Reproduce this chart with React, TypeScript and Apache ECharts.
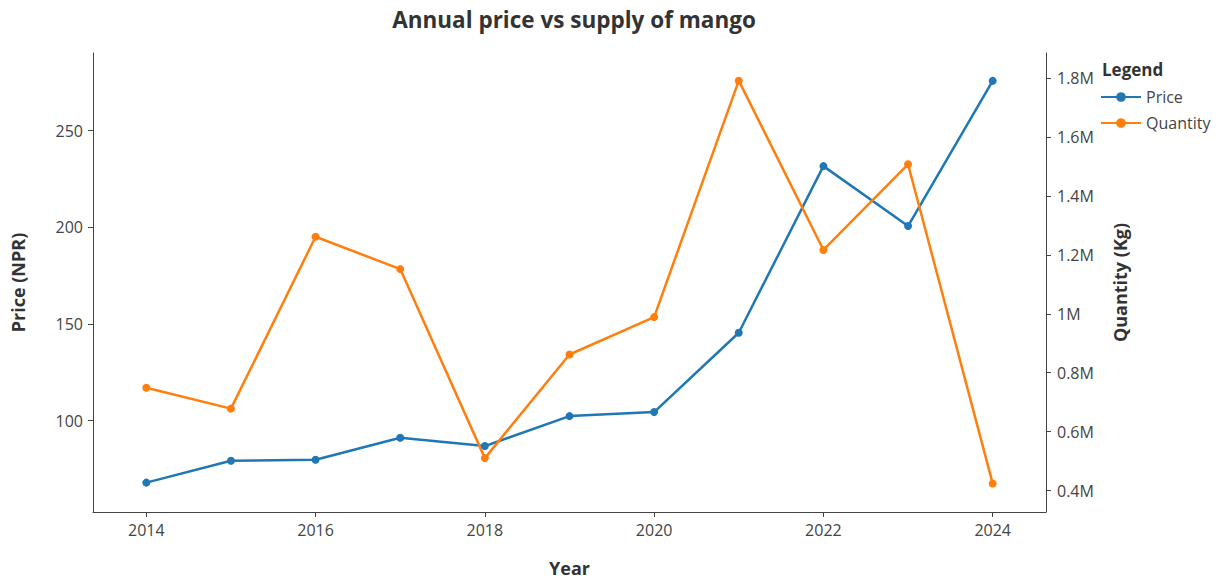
import React, { useEffect, useRef } from "react";
import * as echarts from "echarts";

const years = [2014, 2015, 2016, 2017, 2018, 2019, 2020, 2021, 2022, 2023, 2024];
const price = [68.0, 79.3, 79.8, 91.2, 86.9, 102.4, 104.5, 145.5, 231.7, 200.7, 275.8];
const quantity = [749000, 678000, 1262000, 1152000, 510000, 862000, 989000, 1792000, 1217000, 1508000, 424000];
const xTicks = [2014, 2016, 2018, 2020, 2022, 2024];
const priceTicks = [100, 150, 200, 250];
const quantityTicks = [400000, 600000, 800000, 1000000, 1200000, 1400000, 1600000, 1800000];

const FONT = "'Open Sans', 'Noto Sans', sans-serif";
const BLUE = "#1f77b4";
const ORANGE = "#ff7f0e";

export default function App() {
  const ref = useRef<HTMLDivElement>(null);
  useEffect(() => {
    document.body.style.margin = "0";
    if (!ref.current) return;
    const chart = echarts.init(ref.current, undefined, { renderer: "svg" });
    const axisLine = { show: true, lineStyle: { color: "#444", width: 1 } };
    const axisTick = { show: true, length: 5, lineStyle: { color: "#444" } };
    const labelStyle = { color: "#444", fontSize: 16, fontFamily: FONT };
    const nameStyle = { color: "#333", fontSize: 18, fontWeight: "bold" as const, fontFamily: FONT };
    chart.setOption({
      animation: false,
      textStyle: { fontFamily: FONT },
      title: [
        {
          text: "Annual price vs supply of mango",
          left: 569,
          top: 3,
          textAlign: "center",
          textStyle: { color: "#333", fontSize: 22.5, fontWeight: "bold", fontFamily: FONT },
        },
        {
          text: "Legend",
          left: 1097,
          top: 56,
          textStyle: { color: "#333", fontSize: 17, fontWeight: "bold", fontFamily: FONT },
        },
      ],
      legend: {
        orient: "vertical",
        left: 1100,
        top: 89,
        padding: 0,
        itemWidth: 40,
        itemHeight: 12,
        itemGap: 10,
        textStyle: { color: "#444", fontSize: 16, fontFamily: FONT },
        data: ["Price", "Quantity"],
      },
      grid: { left: 93, right: 174, top: 53, bottom: 68, outerBoundsMode: "none", containLabel: false },
      xAxis: {
        type: "value",
        min: 2013.37,
        max: 2024.63,
        name: "Year",
        nameLocation: "middle",
        nameGap: 47,
        nameTextStyle: nameStyle,
        axisLine,
        axisTick: { ...axisTick, customValues: xTicks },
        axisLabel: { ...labelStyle, margin: 10, customValues: xTicks, formatter: (v: number) => String(v) },
        splitLine: { show: false },
      },
      yAxis: [
        {
          type: "value",
          min: 52.8,
          max: 290.2,
          name: "Price (NPR)",
          nameLocation: "middle",
          nameGap: 66,
          nameTextStyle: nameStyle,
          axisLine,
          axisTick: { ...axisTick, customValues: priceTicks },
          axisLabel: { ...labelStyle, margin: 10, customValues: priceTicks },
          splitLine: { show: false },
        },
        {
          type: "value",
          position: "right",
          min: 327000,
          max: 1886000,
          name: "Quantity (Kg)",
          nameLocation: "middle",
          nameGap: 65,
          nameTextStyle: nameStyle,
          axisLine,
          axisTick: { ...axisTick, customValues: quantityTicks },
          axisLabel: {
            ...labelStyle,
            margin: 11,
            customValues: quantityTicks,
            formatter: (v: number) => `${Math.round(v / 100000) / 10}M`,
          },
          splitLine: { show: false },
        },
      ],
      series: [
        {
          name: "Price",
          type: "line",
          yAxisIndex: 0,
          data: years.map((y, i) => [y, price[i]]),
          symbol: "circle",
          symbolSize: 8,
          itemStyle: { color: BLUE },
          lineStyle: { color: BLUE, width: 2.5 },
        },
        {
          name: "Quantity",
          type: "line",
          yAxisIndex: 1,
          data: years.map((y, i) => [y, quantity[i]]),
          symbol: "circle",
          symbolSize: 8,
          itemStyle: { color: ORANGE },
          lineStyle: { color: ORANGE, width: 2.5 },
        },
      ],
    });
    return () => chart.dispose();
  }, []);
  return <div ref={ref} style={{ width: 1220, height: 580 }} />;
}
